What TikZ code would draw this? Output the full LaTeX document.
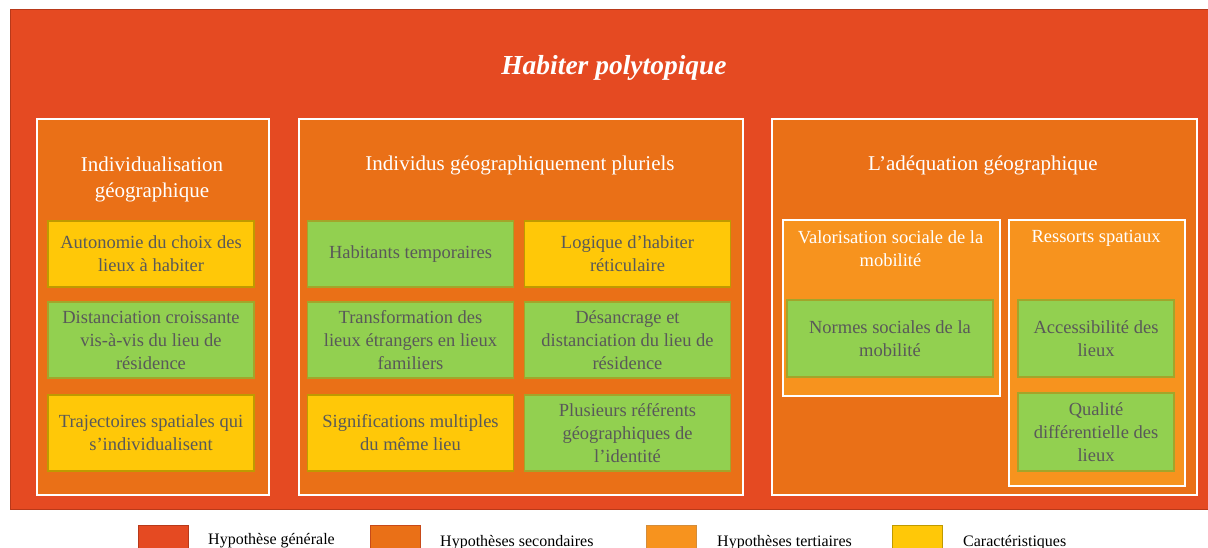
\documentclass[tikz,border=0pt]{standalone}
\usepackage{fontspec}
\setmainfont{Liberation Serif}
\definecolor{cRed}{HTML}{E54A22}
\definecolor{cRedDark}{HTML}{B8391A}
\definecolor{cSec}{HTML}{EA7017}
\definecolor{cTer}{HTML}{F7931E}
\definecolor{cYel}{HTML}{FFC808}
\definecolor{cGrn}{HTML}{92D050}
\definecolor{cYelB}{HTML}{BF9A00}
\definecolor{cGrnB}{HTML}{A3A52A}
\definecolor{cTxt}{HTML}{595959}
\tikzset{
  secbox/.style={fill=cSec, draw=white, line width=2pt, inner sep=0pt},
  terbox/.style={fill=cTer, draw=white, line width=2pt, inner sep=0pt},
  itembox/.style={line width=1.2pt, inner sep=2pt, align=center, text=cTxt,
     font=\fontsize{18.5}{23}\selectfont},
  yelbox/.style={itembox, fill=cYel, draw=cYelB},
  grnbox/.style={itembox, fill=cGrn, draw=cGrnB},
  boxtitle/.style={text=white, align=center, font=\fontsize{21}{26}\selectfont},
  tertitle/.style={text=white, align=center, font=\fontsize{18.5}{23}\selectfont},
  legsq/.style={inner sep=0pt, minimum width=50pt, minimum height=26pt, anchor=north west},
  legtxt/.style={anchor=base west, inner sep=0pt, font=\fontsize{16}{19}\selectfont, text=black},
}
\begin{document}
\begin{tikzpicture}[x=1pt,y=-1pt]
\useasboundingbox (0,0) rectangle (1208,548);
% main box
\node[fill=cRed, draw=cRedDark, line width=0.8pt, inner sep=0pt, minimum width=1198pt, minimum height=500pt, anchor=north west] (main) at (10,9) {};
\node[text=white, font=\fontsize{27.5}{32}\selectfont\bfseries\itshape] (title) at (614,68) {Habiter polytopique};
% secondary boxes
\node[secbox, minimum width=232pt, minimum height=376pt, anchor=north west] (s1) at (36,118) {};
\node[secbox, minimum width=444pt, minimum height=376pt, anchor=north west] (s2) at (298,118) {};
\node[secbox, minimum width=425pt, minimum height=376pt, anchor=north west] (s3) at (771,118) {};
\node[boxtitle] (t1) at (152,179) {Individualisation\\géographique};
\node[boxtitle] (t2) at (520,165) {Individus géographiquement pluriels};
\node[boxtitle] (t3) at (983,165) {L’adéquation géographique};
% box 1 items
\node[yelbox, minimum width=206pt, minimum height=66pt] (a1) at (151,254) {Autonomie du choix des\\lieux à habiter};
\node[grnbox, minimum width=206pt, minimum height=76pt] (a2) at (151,340) {Distanciation croissante\\vis-à-vis du lieu de\\résidence};
\node[yelbox, minimum width=206pt, minimum height=76pt] (a3) at (151,433) {Trajectoires spatiales qui\\s’individualisent};
% box 2 items
\node[grnbox, minimum width=206pt, minimum height=66pt] (b1) at (410.5,254) {Habitants temporaires};
\node[yelbox, minimum width=206pt, minimum height=66pt] (b2) at (627.5,254) {Logique d’habiter\\réticulaire};
\node[grnbox, minimum width=206pt, minimum height=76pt] (b3) at (410.5,340) {Transformation des\\lieux étrangers en lieux\\familiers};
\node[grnbox, minimum width=206pt, minimum height=76pt] (b4) at (627.5,340) {Désancrage et\\distanciation du lieu de\\résidence};
\node[yelbox, minimum width=206pt, minimum height=76pt] (b5) at (410.5,433) {Significations multiples\\du même lieu};
\node[grnbox, minimum width=206pt, minimum height=76pt] (b6) at (627.5,433) {Plusieurs référents\\géographiques de\\l’identité};
% tertiary boxes
\node[terbox, minimum width=217pt, minimum height=176pt, anchor=north west] (r1) at (782,219) {};
\node[terbox, minimum width=176pt, minimum height=266pt, anchor=north west] (r2) at (1008,219) {};
\node[tertitle] (rt1) at (890.5,249) {Valorisation sociale de la\\mobilité};
\node[tertitle] (rt2) at (1096,238) {Ressorts spatiaux};
\node[grnbox, minimum width=206pt, minimum height=77pt] (c1) at (890,338.5) {Normes sociales de la\\mobilité};
\node[grnbox, minimum width=156pt, minimum height=77pt] (c2) at (1096,338.5) {Accessibilité des\\lieux};
\node[grnbox, minimum width=156pt, minimum height=78pt] (c3) at (1096,432) {Qualité\\différentielle des\\lieux};
% legend
\node[legsq, fill=cRed, draw=cRedDark, line width=0.6pt] (l1) at (138,525) {};
\node[legtxt] (lt1) at (208,544) {Hypothèse générale};
\node[legsq, fill=cSec, draw=cRedDark!70!cSec, line width=0.6pt] (l2) at (370,525) {};
\node[legtxt] (lt2) at (440,546) {Hypothèses secondaires};
\node[legsq, fill=cTer, draw=cTer!70!gray, line width=0.6pt] (l3) at (646,525) {};
\node[legtxt] (lt3) at (717,546) {Hypothèses tertiaires};
\node[legsq, fill=cYel, draw=cYelB, line width=0.6pt] (l4) at (892,525) {};
\node[legtxt] (lt4) at (963,546) {Caractéristiques};
\end{tikzpicture}
\end{document}
